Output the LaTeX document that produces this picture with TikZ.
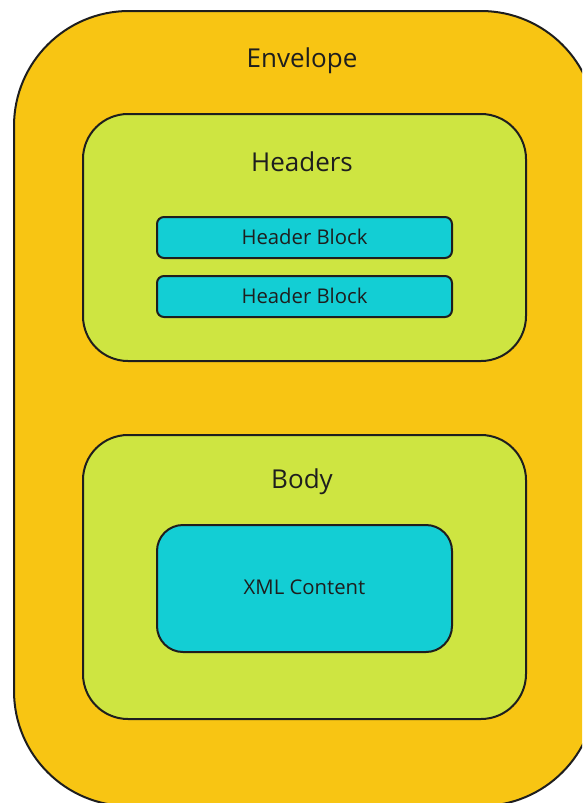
\documentclass[tikz,border=0pt]{standalone}
\usepackage{fontspec}
\setmainfont{Open Sans}
\definecolor{edge}{HTML}{1E1E1E}
\definecolor{envfill}{HTML}{F8C513}
\definecolor{secfill}{HTML}{CEE541}
\definecolor{itemfill}{HTML}{13CED4}
\begin{document}
\begin{tikzpicture}[x=1pt,y=-1pt,
  container/.style={draw=edge, line width=2pt, rectangle, inner sep=0pt, anchor=north west},
  envelopebox/.style={container, fill=envfill, rounded corners=115pt},
  sectionbox/.style={container, fill=secfill, rounded corners=45pt},
  itembox/.style={container, fill=itemfill, text=edge, text depth=2pt,
    font=\fontsize{20.3}{24}\selectfont},
  title/.style={text=edge, inner sep=0pt, anchor=base, font=\fontsize{26}{31}\selectfont}]
\useasboundingbox (0,0) rectangle (582,803);
\clip (0,0) rectangle (582,803);

% outer envelope
\node[envelopebox, minimum width=582pt, minimum height=795pt] (envelope) at (13,10) {};
\node[title] (envtitle) at (302,67) {Envelope};

% headers section
\node[sectionbox, minimum width=443pt, minimum height=247pt] (headers) at (82,113) {};
\node[title] (hdrtitle) at (302,171.5) {Headers};
\node[itembox, rounded corners=7pt, minimum width=295pt, minimum height=41pt] (hb1) at (156,216) {Header Block};
\node[itembox, rounded corners=7pt, minimum width=295pt, minimum height=41pt] (hb2) at (156,275) {Header Block};

% body section
\node[sectionbox, minimum width=443pt, minimum height=284pt] (body) at (82,434) {};
\node[title] (bodytitle) at (302,488.5) {Body};
\node[itembox, rounded corners=26pt, minimum width=295pt, minimum height=127pt] (xml) at (156,524) {XML Content};
\end{tikzpicture}
\end{document}
